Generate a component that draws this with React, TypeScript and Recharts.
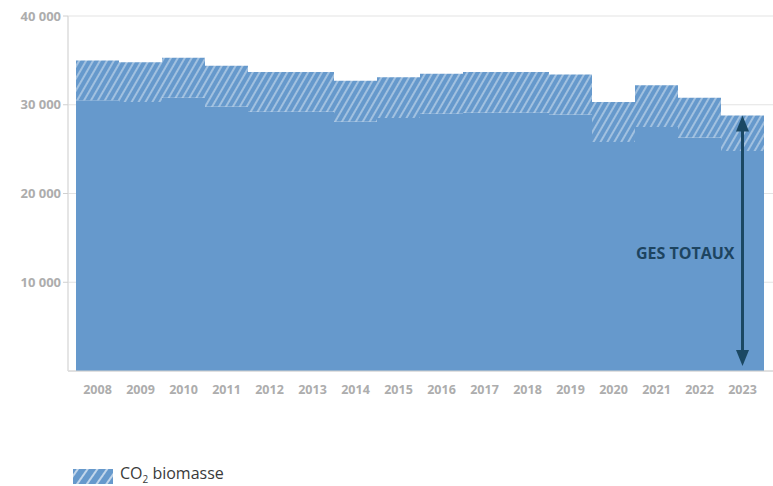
import React from 'react';
import { BarChart, Bar, XAxis, YAxis, CartesianGrid, ReferenceLine } from 'recharts';

const years = ['2008', '2009', '2010', '2011', '2012', '2013', '2014', '2015', '2016', '2017', '2018', '2019', '2020', '2021', '2022', '2023'];
// GES hors CO2 biomasse (partie pleine)
const gesHorsBiomasse = [30500, 30300, 30800, 29800, 29200, 29200, 28100, 28500, 29000, 29100, 29100, 28900, 25800, 27500, 26300, 24800];
// CO2 biomasse (partie hachurée)
const co2Biomasse = [4500, 4500, 4500, 4600, 4500, 4500, 4600, 4600, 4500, 4600, 4600, 4500, 4500, 4700, 4500, 4000];
const yTicks = [10000, 20000, 30000, 40000];

const BLUE = '#6699cc';
const FONT = '"Open Sans", "Noto Sans", sans-serif';

const data = years.map((year, i) => ({
  year,
  ges: gesHorsBiomasse[i],
  bio: co2Biomasse[i],
}));

const lastYear = years[years.length - 1];
const lastTotal = gesHorsBiomasse[gesHorsBiomasse.length - 1] + co2Biomasse[co2Biomasse.length - 1];

const formatTick = (v: number) => v.toLocaleString('fr-FR').replace(/\u202f|\u00a0/g, ' ');

const ArrowShape = (props: any) => {
  const { x1, y1, y2 } = props;
  const x = x1;
  const top = y1;
  const bottom = y2 - 5;
  const c = '#1b4863';
  return (
    <g>
      <line x1={x} y1={top + 10} x2={x} y2={bottom - 10} stroke={c} strokeWidth={3} />
      <polygon points={`${x},${top} ${x - 6.5},${top + 16} ${x + 6.5},${top + 16}`} fill={c} />
      <polygon points={`${x},${bottom} ${x - 6.5},${bottom - 16} ${x + 6.5},${bottom - 16}`} fill={c} />
      <text
        x={x - 8}
        y={(top + y2) / 2 + 16}
        textAnchor="end"
        fontFamily={FONT}
        fontWeight={700}
        fontSize={16}
        fill="#1d4460"
      >
        GES TOTAUX
      </text>
    </g>
  );
};

export default function App() {
  return (
    <div style={{ position: 'absolute', left: 0, top: 0, width: 773, height: 486, background: '#fff', fontFamily: FONT }}>
      <BarChart
        width={773}
        height={401}
        data={data}
        margin={{ top: 16, right: 0, left: 0, bottom: 0 }}
        barCategoryGap={0}
        barGap={0}
      >
        <defs>
          <pattern id="hatch" width="6" height="6" patternUnits="userSpaceOnUse" patternTransform="rotate(30)">
            <rect width="6" height="6" fill={BLUE} />
            <line x1="3" y1="0" x2="3" y2="6" stroke="#ffffff" strokeOpacity={0.6} strokeWidth={1.3} />
          </pattern>
        </defs>
        <CartesianGrid vertical={false} stroke="#e3e3e3" />
        <XAxis
          dataKey="year"
          height={30}
          padding={{ left: 8, right: 9 }}
          axisLine={{ stroke: '#d0d0d0' }}
          tickLine={false}
          tickMargin={8}
          tick={{ fill: '#adadad', fontSize: 12.5, fontWeight: 700, fontFamily: FONT }}
          interval={0}
        />
        <YAxis
          width={68}
          domain={[0, 40000]}
          ticks={yTicks}
          tickFormatter={formatTick}
          axisLine={{ stroke: '#dcdcdc', strokeWidth: 1.5 }}
          tickLine={{ stroke: '#d0d0d0' }}
          tickSize={5}
          tickMargin={2}
          tick={{ fill: '#adadad', fontSize: 13, fontWeight: 700, fontFamily: FONT }}
        />
        <Bar dataKey="ges" stackId="a" fill={BLUE} isAnimationActive={false} />
        <Bar dataKey="bio" stackId="a" fill="url(#hatch)" isAnimationActive={false} />
        <ReferenceLine
          segment={[{ x: lastYear, y: lastTotal }, { x: lastYear, y: 0 }]}
          shape={ArrowShape}
        />
      </BarChart>
      <div style={{ position: 'absolute', left: 73, top: 464, display: 'flex', alignItems: 'center' }}>
        <svg width={40} height={15} style={{ display: 'block' }}>
          <defs>
            <pattern id="hatchLegend" width="8" height="8" patternUnits="userSpaceOnUse" patternTransform="rotate(35)">
              <rect width="8" height="8" fill={BLUE} />
              <line x1="4" y1="0" x2="4" y2="8" stroke="#ffffff" strokeOpacity={0.8} strokeWidth={1.5} />
            </pattern>
          </defs>
          <rect width={40} height={15} fill="url(#hatchLegend)" />
        </svg>
        <span style={{ marginLeft: 7, fontSize: 16, color: '#3a3a3a', lineHeight: '18px' }}>
          CO<sub style={{ fontSize: 10, verticalAlign: -4 }}>2</sub> biomasse
        </span>
      </div>
    </div>
  );
}
